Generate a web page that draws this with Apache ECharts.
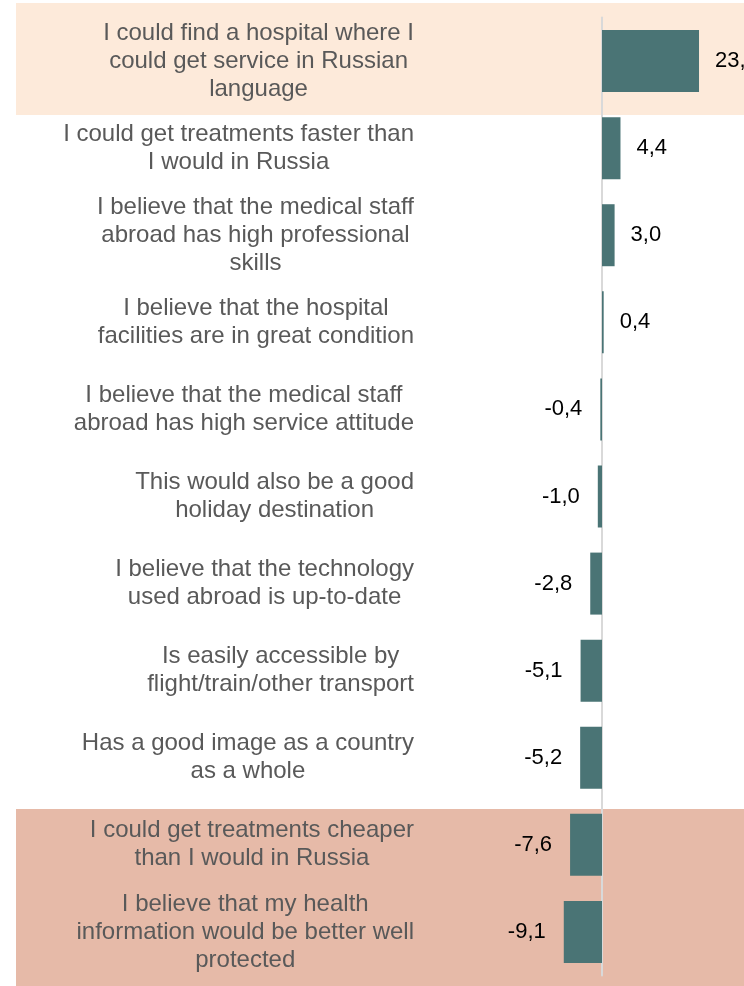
<!DOCTYPE html>
<html>
<head>
<meta charset="utf-8">
<script src="https://cdn.jsdelivr.net/npm/echarts@6/dist/echarts.min.js"></script>
<style>
  html, body { margin: 0; padding: 0; background: #ffffff; }
  #chart { width: 744px; height: 986px; }
</style>
</head>
<body>
<div id="chart"></div>
<script>
// Reasons for choosing treatment abroad: net score per statement
const categories = [
  "I could find a hospital where I\ncould get service in Russian\nlanguage",
  "I could get treatments faster than\nI would in Russia",
  "I believe that the medical staff\nabroad has high professional\nskills",
  "I believe that the hospital\nfacilities are in great condition",
  "I believe that the medical staff\nabroad has high service attitude",
  "This would also be a good\nholiday destination",
  "I believe that the technology\nused abroad is up-to-date",
  "Is easily accessible by\nflight/train/other transport",
  "Has a good image as a country\nas a whole",
  "I could get treatments cheaper\nthan I would in Russia",
  "I believe that my health\ninformation would be better well\nprotected"
];
const values = [23.1, 4.4, 3.0, 0.4, -0.4, -1.0, -2.8, -5.1, -5.2, -7.6, -9.1];

const FONT = '"Liberation Sans", Arial, sans-serif';
const BAR = '#4a7475';

const chart = echarts.init(document.getElementById('chart'), null, { renderer: 'canvas' });

chart.setOption({
  backgroundColor: '#ffffff',
  animation: false,
  // highlighted bands behind the top statement and the two bottom statements
  graphic: [
    { type: 'rect', z: -10, silent: true, shape: { x: 16, y: 3, width: 728, height: 112 }, style: { fill: '#fdeada' } },
    { type: 'rect', z: -10, silent: true, shape: { x: 16, y: 809, width: 728, height: 177 }, style: { fill: '#e6baa8' } }
  ],
  grid: { left: 560, width: 168, top: 17.5, bottom: 10.5, containLabel: false },
  xAxis: {
    type: 'value', min: -10, max: 30,
    show: false, splitLine: { show: false }
  },
  yAxis: {
    type: 'category', data: categories, inverse: true,
    axisLine: { show: true, onZero: true, lineStyle: { color: '#d9d9d9', width: 2 } },
    axisTick: { show: false },
    axisLabel: {
      margin: 146,
      align: 'right',
      formatter: function (v) {
        return v.split('\n').map(function (l) { return '{c|' + l + '}'; }).join('\n');
      },
      rich: {
        c: { align: 'center', fontFamily: FONT, fontSize: 24, lineHeight: 28, color: '#595959' }
      }
    }
  },
  series: [{
    type: 'bar',
    barWidth: 62,
    itemStyle: { color: BAR },
    data: values.map(function (v) {
      return {
        value: v,
        label: {
          show: true,
          position: v >= 0 ? 'right' : 'left',
          distance: v >= 0 ? 16 : 18
        }
      };
    }),
    label: {
      fontFamily: FONT, fontSize: 22, color: '#000000',
      formatter: function (p) { return p.value.toFixed(1).replace('.', ','); }
    }
  }]
});
</script>
</body>
</html>
